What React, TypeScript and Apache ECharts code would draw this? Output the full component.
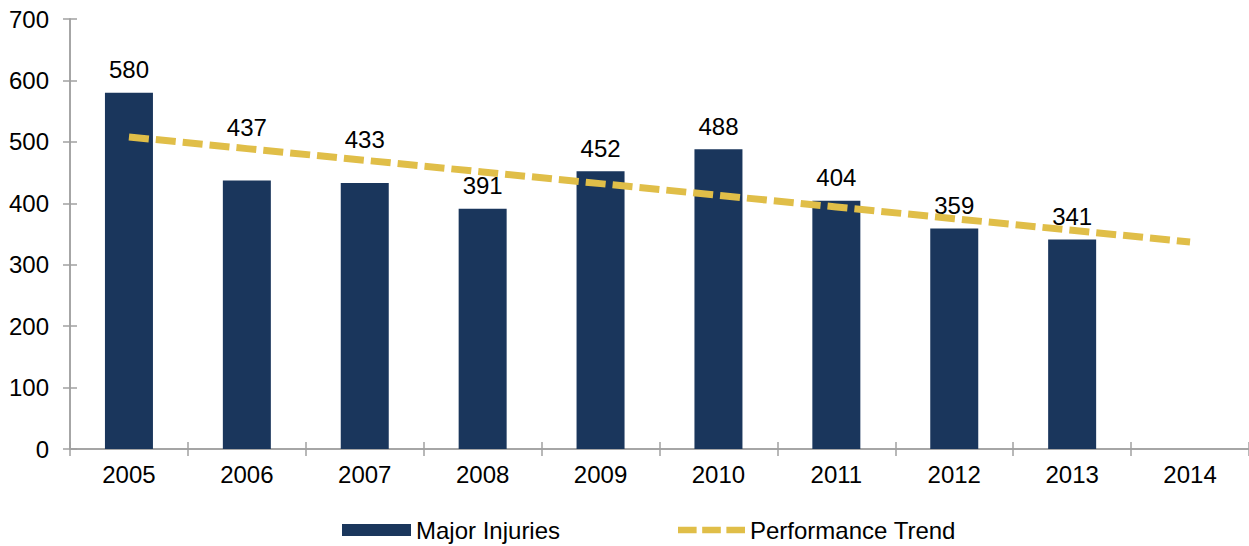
import React, { useEffect, useRef } from "react";
import * as echarts from "echarts";

const years = ["2005", "2006", "2007", "2008", "2009", "2010", "2011", "2012", "2013", "2014"];
const majorInjuries = [580, 437, 433, 391, 452, 488, 404, 359, 341, null];
const performanceTrend = [508, 489, 470, 451, 432, 413, 394, 375, 356, 337];
const yMin = 0;
const yMax = 700;
const yInterval = 100;

const FONT = "Liberation Sans, Arial, sans-serif";
const FS = 24;
const AXIS_COLOR = "#a0a0a0";
const TREND_COLOR = "#e0be48";
const BAR_COLOR = "#1a365c";
// extra lift of labels that would otherwise collide with the trend line
const labelLift: Record<number, number> = { 1: 30, 2: 21 };

export default function App() {
  const ref = useRef<HTMLDivElement>(null);
  useEffect(() => {
    if (!ref.current) return;
    const chart = echarts.init(ref.current, undefined, { renderer: "svg" });
    const yBase = {
      type: "value",
      min: yMin,
      max: yMax,
      interval: yInterval,
      position: "left",
      splitLine: { show: false },
      axisLine: { show: true, lineStyle: { color: AXIS_COLOR, width: 1.5 } },
    };
    const xBase = {
      type: "category",
      data: years,
      position: "bottom",
      axisLine: { show: true, lineStyle: { color: AXIS_COLOR, width: 1.5 } },
    };
    const barData = majorInjuries.map((v, i) =>
      labelLift[i] ? { value: v, label: { distance: 11 + labelLift[i] } } : v
    );
    chart.setOption({
      animation: false,
      textStyle: { fontFamily: FONT },
      grid: { left: 70, right: 0, top: 19, bottom: 97, containLabel: false },
      xAxis: [
        {
          ...xBase,
          axisTick: { show: true, inside: false, length: 7, lineStyle: { color: AXIS_COLOR, width: 1.5 } },
          axisLabel: { color: "#000", fontSize: FS, fontFamily: FONT, margin: 13 },
        },
        {
          ...xBase,
          axisTick: { show: true, inside: true, length: 7, lineStyle: { color: AXIS_COLOR, width: 1.5 } },
          axisLabel: { show: false },
        },
      ],
      yAxis: [
        {
          ...yBase,
          axisTick: { show: true, inside: false, length: 7, lineStyle: { color: AXIS_COLOR, width: 1.5 } },
          axisLabel: { color: "#000", fontSize: FS, fontFamily: FONT, margin: 21 },
        },
        {
          ...yBase,
          axisTick: { show: true, inside: true, length: 7, lineStyle: { color: AXIS_COLOR, width: 1.5 } },
          axisLabel: { show: false },
        },
      ],
      legend: [
        {
          left: 337,
          top: 513,
          itemWidth: 69,
          itemHeight: 12,
          itemGap: 0,
          textStyle: { color: "#000", fontSize: FS, fontFamily: FONT },
          data: [{ name: "Major Injuries", icon: "rect", itemStyle: { color: BAR_COLOR } }],
        },
        {
          left: 673,
          top: 513,
          itemWidth: 67,
          itemHeight: 7,
          itemGap: 0,
          textStyle: { color: "#000", fontSize: FS, fontFamily: FONT },
          data: [
            {
              name: "Performance Trend",
              icon: "path://M0,0h20v7h-20z M26,0h20v7h-20z M52,0h20v7h-20z",
              itemStyle: { color: TREND_COLOR },
            },
          ],
        },
      ],
      series: [
        {
          name: "Major Injuries",
          type: "bar",
          data: barData,
          barWidth: 48,
          itemStyle: { color: BAR_COLOR },
          label: {
            show: true,
            position: "top",
            distance: 11,
            color: "#000",
            fontSize: FS,
            fontFamily: FONT,
          },
        },
        {
          name: "Performance Trend",
          type: "line",
          data: performanceTrend,
          symbol: "none",
          lineStyle: { color: TREND_COLOR, width: 7, type: [20, 7] },
          itemStyle: { color: TREND_COLOR },
          z: 3,
        },
      ],
    });
    return () => chart.dispose();
  }, []);
  return (
    <div
      ref={ref}
      style={{ position: "fixed", left: 0, top: 0, width: 1249, height: 546, background: "#fff" }}
    />
  );
}
